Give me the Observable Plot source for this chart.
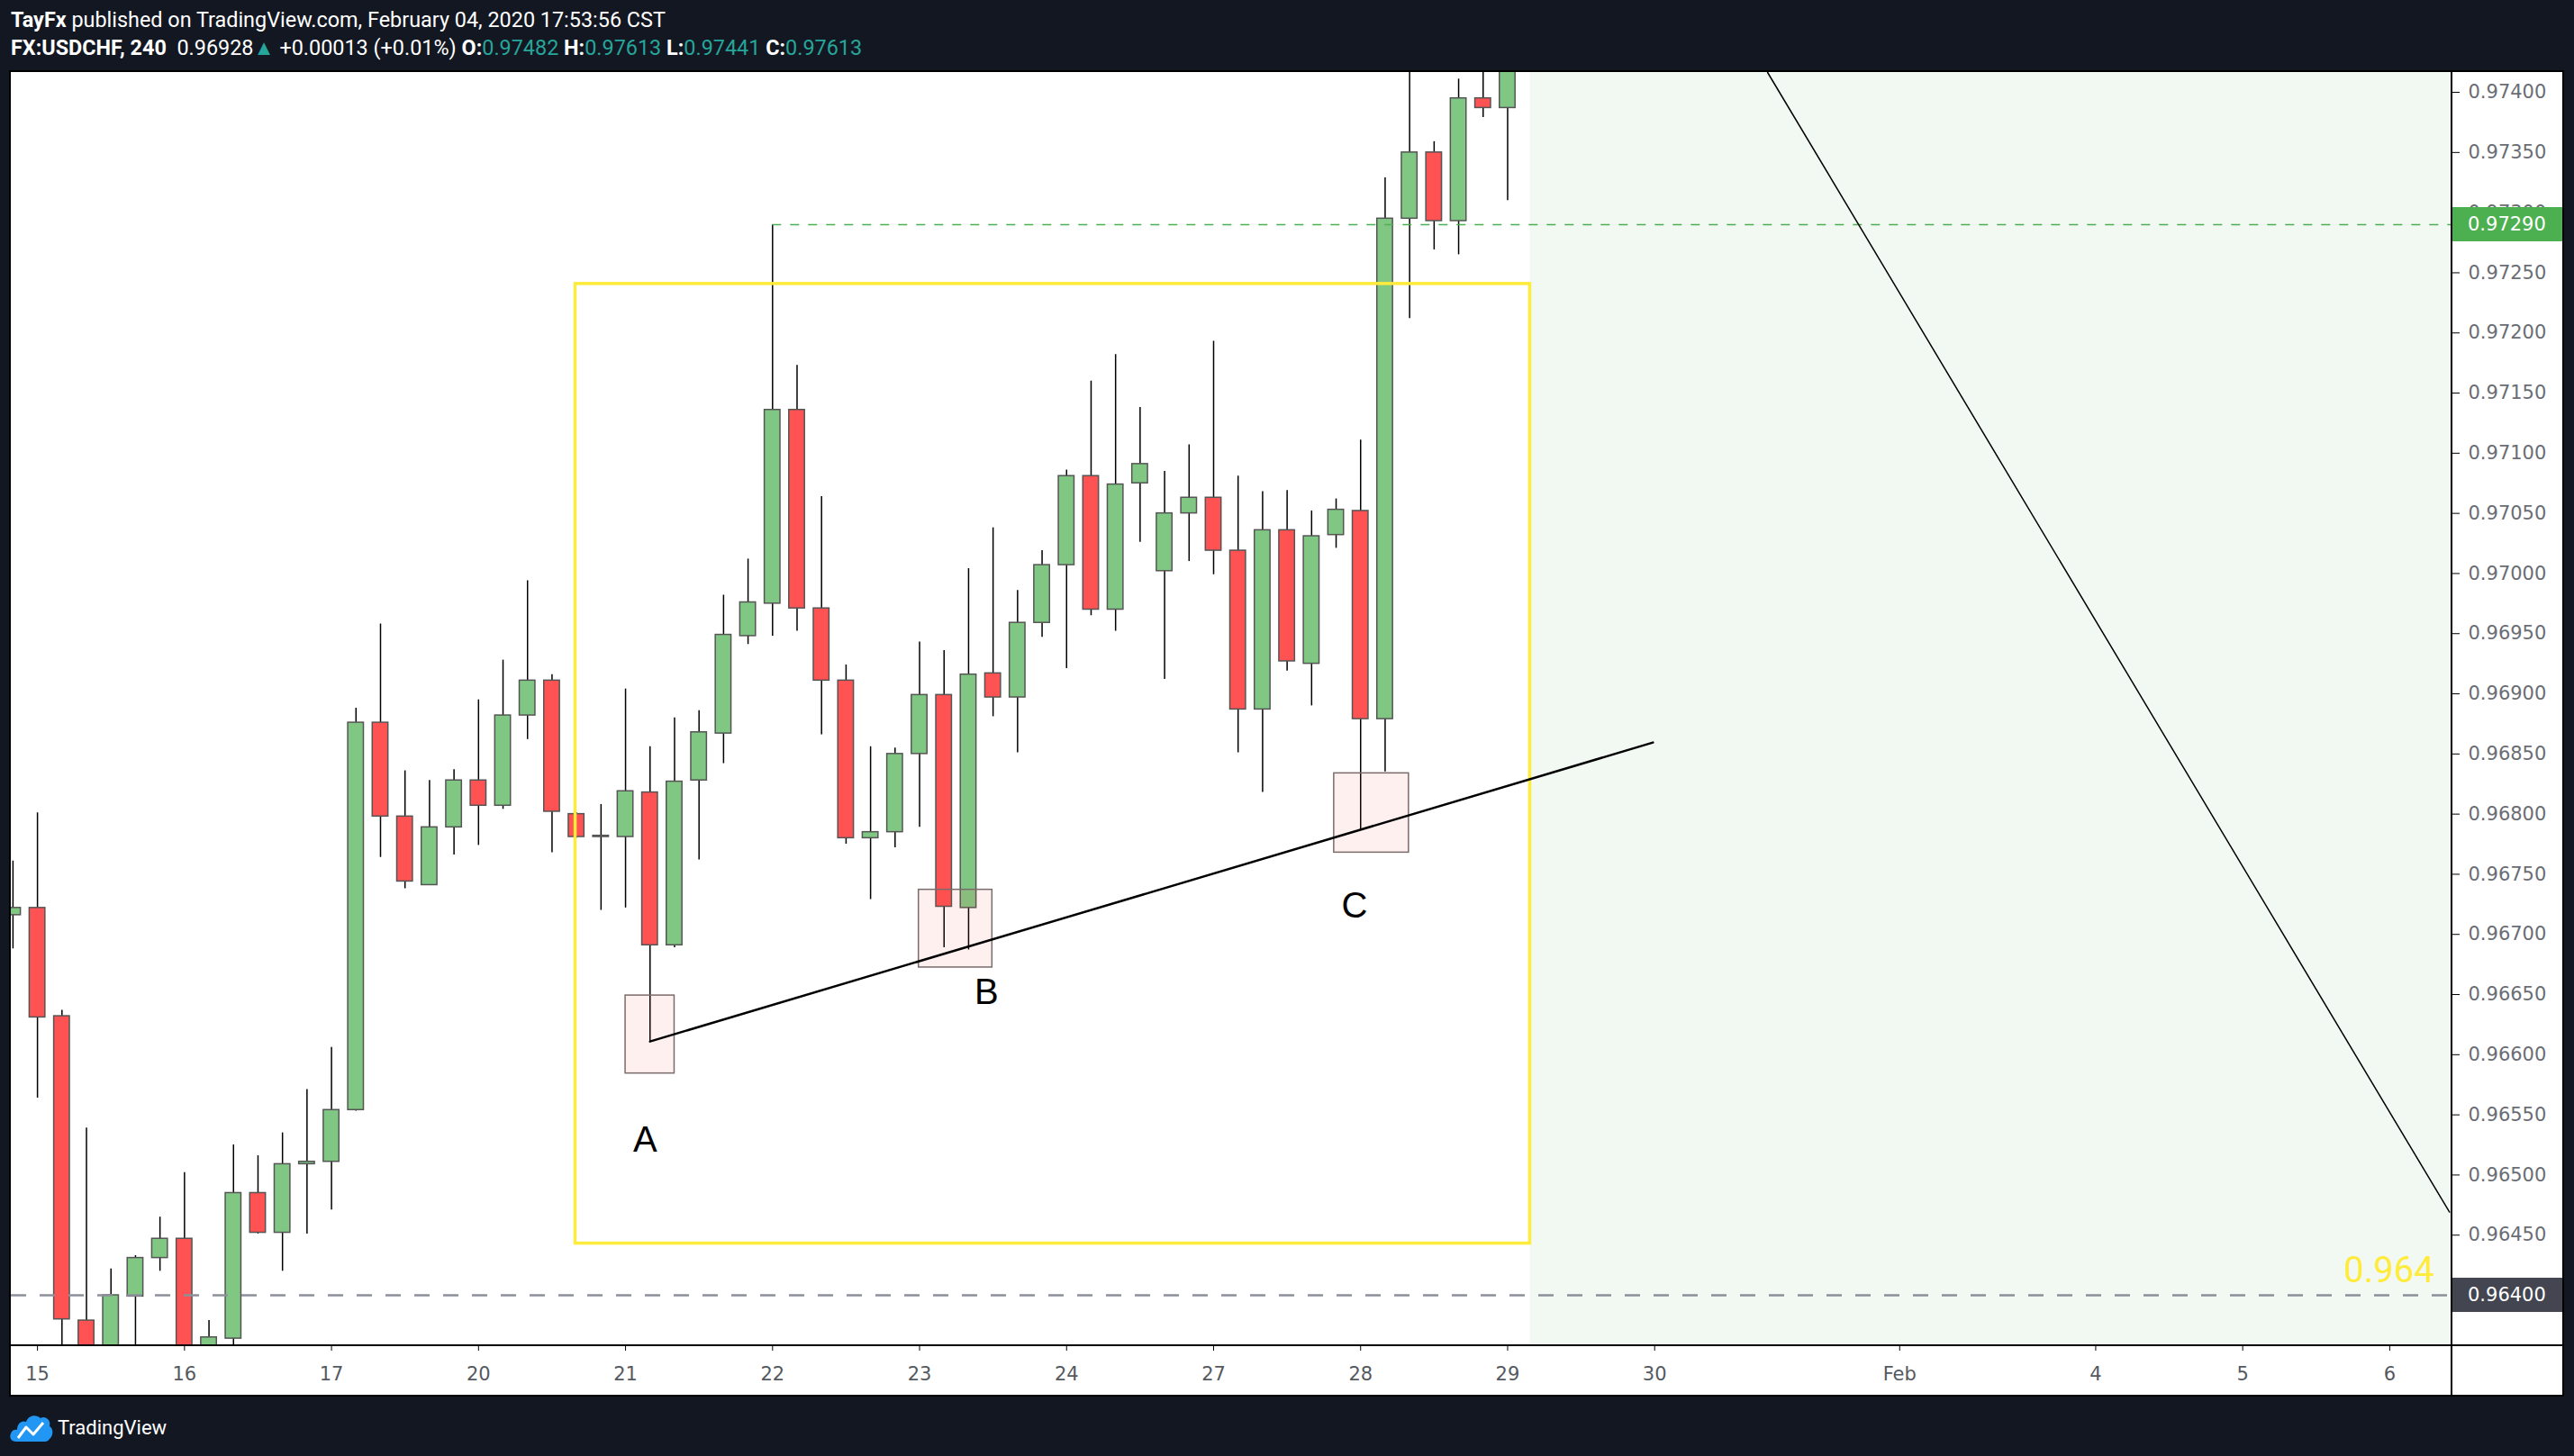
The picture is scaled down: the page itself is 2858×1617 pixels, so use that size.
<!DOCTYPE html>
<html>
<head>
<meta charset="utf-8">
<script src="https://cdn.jsdelivr.net/npm/d3@7"></script>
<script src="https://cdn.jsdelivr.net/npm/@observablehq/plot@0.6"></script>
<style>
html,body{margin:0;padding:0;background:#131722;width:2858px;height:1617px;overflow:hidden;font-family:Roboto,"Noto Sans",sans-serif;}
.hdr{position:absolute;left:12px;white-space:nowrap;color:#fff;font-size:23.4px;line-height:28px;}
#hdr1{top:8px;}
#hdr2{top:39px;}
.b{font-weight:bold;}
.t{color:#26a69a;}
#panel{position:absolute;left:10px;top:78px;width:2833px;height:1469px;border:2px solid #000;background:#fff;}
#panel svg{display:block;}
#panel g[aria-label^="y-axis"] text{fill:#6a6d74;}
#panel g[aria-label^="x-axis"] text{fill:#555960;}
#footer{position:absolute;left:10px;top:1568px;height:34px;display:flex;align-items:center;color:#fff;font-size:22px;}
#footer span{margin-left:4px;}
</style>
</head>
<body>
<div id="hdr1" class="hdr"><span class="b">TayFx</span> published on TradingView.com, February 04, 2020 17:53:56 CST</div>
<div id="hdr2" class="hdr"><span class="b">FX:USDCHF, 240</span>&nbsp; 0.96928<span class="t">&#9650;</span> +0.00013 (+0.01%) <span class="b">O:</span><span class="t">0.97482</span> <span class="b">H:</span><span class="t">0.97613</span> <span class="b">L:</span><span class="t">0.97441</span> <span class="b">C:</span><span class="t">0.97613</span></div>
<div id="panel"></div>
<div id="footer">
<svg width="50" height="34" viewBox="0 0 50 34">
<path d="M8 33 C2 33 0 28 2 24 C3 20 7 19 9 20 C9 13 14 9 19 11 C21 4 30 2 35 7 C40 4 47 9 45 16 C50 19 49 27 45 30 C44 32 42 33 40 33 Z" fill="#2196f3"/>
<polyline points="10,29 19,17 27,25 38,12" fill="none" stroke="#fff" stroke-width="3" stroke-linejoin="round"/>
</svg>
<span>TradingView</span>
</div>
<script>
// ---- candle data (4h bars, index 0 = first visible bar) ----
const openP  = [0.96716,0.96722,0.96632,0.96379,0.96335,0.96399,0.96431,0.96447,0.96345,0.96364,0.96485,0.96452,0.96509,0.96511,0.96554,0.96876,0.96798,0.96741,0.96789,0.96828,0.96807,0.96882,0.96911,0.96800,0.96781,0.96781,0.96818,0.96691,0.96828,0.96867,0.96948,0.96975,0.97136,0.96971,0.96911,0.96780,0.96785,0.96850,0.96899,0.96722,0.96917,0.96897,0.96959,0.97007,0.97081,0.96970,0.97075,0.97002,0.97050,0.97063,0.97019,0.96887,0.97036,0.96925,0.97032,0.97052,0.96879,0.97295,0.97350,0.97293,0.97395,0.97387];
const highP  = [0.96761,0.96801,0.96637,0.96539,0.96422,0.96433,0.96465,0.96502,0.96379,0.96525,0.96516,0.96535,0.96571,0.96606,0.96888,0.96958,0.96836,0.96828,0.96837,0.96895,0.96928,0.96994,0.96916,0.96801,0.96808,0.96904,0.96856,0.96880,0.96886,0.96982,0.97012,0.97290,0.97173,0.97064,0.96924,0.96856,0.96855,0.96943,0.96936,0.97004,0.97038,0.96986,0.97019,0.97086,0.97160,0.97182,0.97138,0.97085,0.97107,0.97193,0.97081,0.97068,0.97069,0.97052,0.97062,0.97111,0.97329,0.97425,0.97359,0.97411,0.97430,0.97460];
const lowP   = [0.96688,0.96564,0.96345,0.96320,0.96330,0.96340,0.96420,0.96330,0.96335,0.96350,0.96451,0.96420,0.96451,0.96471,0.96553,0.96764,0.96738,0.96741,0.96766,0.96774,0.96804,0.96862,0.96768,0.96780,0.96720,0.96722,0.96611,0.96689,0.96762,0.96842,0.96941,0.96948,0.96952,0.96866,0.96775,0.96729,0.96772,0.96789,0.96689,0.96687,0.96881,0.96851,0.96947,0.96921,0.96965,0.96952,0.97026,0.96912,0.97010,0.96999,0.96851,0.96818,0.96919,0.96890,0.97021,0.96787,0.96835,0.97212,0.97269,0.97265,0.97379,0.97310];
const closeP = [0.96722,0.96631,0.96380,0.96335,0.96400,0.96431,0.96447,0.96340,0.96365,0.96485,0.96452,0.96509,0.96511,0.96554,0.96876,0.96798,0.96744,0.96789,0.96828,0.96807,0.96882,0.96911,0.96802,0.96781,0.96782,0.96819,0.96691,0.96827,0.96868,0.96949,0.96976,0.97136,0.96971,0.96911,0.96780,0.96785,0.96850,0.96899,0.96723,0.96916,0.96897,0.96959,0.97007,0.97081,0.96970,0.97074,0.97091,0.97050,0.97063,0.97019,0.96887,0.97036,0.96927,0.97031,0.97053,0.96879,0.97295,0.97350,0.97293,0.97395,0.97387,0.97440];

// ---- axis ticks ----
const xTickIdx    = [1,7,13,19,25,31,37,43,49,55,61,67,77,85,91,97];
const xTickLabels = ["15","16","17","20","21","22","23","24","27","28","29","30","Feb","4","5","6"];
const yTicks = [0.9640,0.9645,0.9650,0.9655,0.9660,0.9665,0.9670,0.9675,0.9680,0.9685,0.9690,0.9695,0.9700,0.9705,0.9710,0.9715,0.9720,0.9725,0.9730,0.9735,0.9740];

// ---- drawings ----
const yellowX = [22.96, 61.92];
const yellowY = [0.96443, 0.972407];
const boxLeft   = [25.0, 36.97, 53.92];
const boxRight  = [27.0, 39.97, 56.97];
const boxTop    = [0.966492, 0.967371, 0.968339];
const boxBottom = [0.965844, 0.966725, 0.967680];
const letters = ["A","B","C"];
const letterX = [25.8, 39.73, 54.75];
const letterY = [0.965287, 0.966517, 0.967237];
const trendX = [26.0, 66.93];
const trendY = [0.96611, 0.968595];
const downX = [71.61, 99.44];
const downY = [0.974165, 0.964691];
const resistance = 0.9729, resistanceFrom = 31;
const support = 0.964;
const futureFrom = 61.92;

// view window
const xDomain = [-0.07, 99.54];
const yDomain = [0.963581, 0.974165];

const candles = openP.map((o, k) => ({i: k, o, h: highP[k], l: lowP[k], c: closeP[k]}));
const boxes = letters.map((t, k) => ({x1: boxLeft[k], x2: boxRight[k], y1: boxBottom[k], y2: boxTop[k]}));
const labels = letters.map((t, k) => ({t, x: letterX[k], y: letterY[k]}));
const trend = trendX.map((x, k) => ({x, y: trendY[k]}));
const down = downX.map((x, k) => ({x, y: downY[k]}));

const W = 2833, H = 1469, mR = 123, mB = 55;
const plot = Plot.plot({
  width: W, height: H,
  marginLeft: 0, marginTop: 0, marginRight: mR, marginBottom: mB,
  style: {background: "#fff", color: "#000", fontFamily: "'DejaVu Sans', sans-serif", fontSize: "21px", overflow: "hidden"},
  color: {type: "identity"},
  x: {type: "linear", domain: xDomain, ticks: xTickIdx, tickFormat: d => xTickLabels[xTickIdx.indexOf(d)], tickSize: 6, tickPadding: 18, label: null},
  y: {domain: yDomain, axis: "right", ticks: yTicks.filter(v => v !== support), tickFormat: d3.format(".5f"), tickSize: 8, tickPadding: 10, label: null},
  marks: [
    Plot.rect([{x1: futureFrom, x2: xDomain[1]}], {x1: "x1", x2: "x2", fill: "rgba(76,175,80,0.07)"}),
    Plot.ruleX(candles, {x: "i", y1: "l", y2: "h", stroke: "#000", strokeWidth: 1.5, clip: true}),
    Plot.rect(candles, {x1: d => d.i - 0.32, x2: d => d.i + 0.32, y1: "o", y2: "c",
      fill: d => d.c >= d.o ? "#81c784" : "#ff5252", stroke: "#555", strokeWidth: 1.5, clip: true}),
    Plot.ruleY([{y: support}], {y: "y", stroke: "#8d9099", strokeWidth: 2.5, strokeDasharray: "17,15"}),
    Plot.ruleY([{y: resistance, x1: resistanceFrom, x2: xDomain[1]}], {y: "y", x1: "x1", x2: "x2", stroke: "#4caf50", strokeWidth: 1.5, strokeDasharray: "10,10"}),
    Plot.rect(boxes, {x1: "x1", x2: "x2", y1: "y1", y2: "y2", fill: "rgba(244,67,54,0.08)", stroke: "#7b6b6b", strokeWidth: 1.5}),
    Plot.rect([{x1: yellowX[0], x2: yellowX[1], y1: yellowY[0], y2: yellowY[1]}], {x1: "x1", x2: "x2", y1: "y1", y2: "y2", fill: "none", stroke: "#ffeb3b", strokeWidth: 3.5}),
    Plot.line(trend, {x: "x", y: "y", stroke: "#000", strokeWidth: 2.5}),
    Plot.line(down, {x: "x", y: "y", stroke: "#000", strokeWidth: 1.5, clip: true}),
    Plot.text(labels, {x: "x", y: "y", text: "t", fontSize: 40, fontFamily: "'Liberation Sans', Arial, sans-serif", fill: "#000"}),
    Plot.text([{x: 98.81, y: support, t: "0.964"}], {x: "x", y: "y", text: "t", textAnchor: "end", lineAnchor: "bottom", dy: -15, fontSize: 40, fontFamily: "Roboto, sans-serif", fill: "#ffeb3b"})
  ]
});
document.getElementById("panel").appendChild(plot);

// axis lines and price labels, positioned through the same scales
const xs = d3.scaleLinear().domain(xDomain).range([0, W - mR]);
const ys = d3.scaleLinear().domain(yDomain).range([H - mB, 0]);
const svg = d3.select(plot);
const fx = xs.range()[1], fy = ys.range()[0];
svg.append("line").attr("x1", fx).attr("x2", fx).attr("y1", 0).attr("y2", H).attr("stroke", "#000").attr("stroke-width", 2);
svg.append("line").attr("x1", 0).attr("x2", W).attr("y1", fy).attr("y2", fy).attr("stroke", "#000").attr("stroke-width", 2);
function priceLabel(v, bg) {
  const y = ys(v);
  svg.append("rect").attr("x", fx + 1).attr("y", y - 19).attr("width", W - fx).attr("height", 38).attr("fill", bg);
  svg.append("text").attr("x", fx + 18).attr("y", y).attr("dy", "0.35em").attr("fill", "#fff")
    .attr("text-anchor", "start")
    .attr("font-family", "'DejaVu Sans', sans-serif").attr("font-size", 21).text(d3.format(".5f")(v));
}
priceLabel(resistance, "#4caf50");
priceLabel(support, "#434651");
</script>
</body>
</html>
